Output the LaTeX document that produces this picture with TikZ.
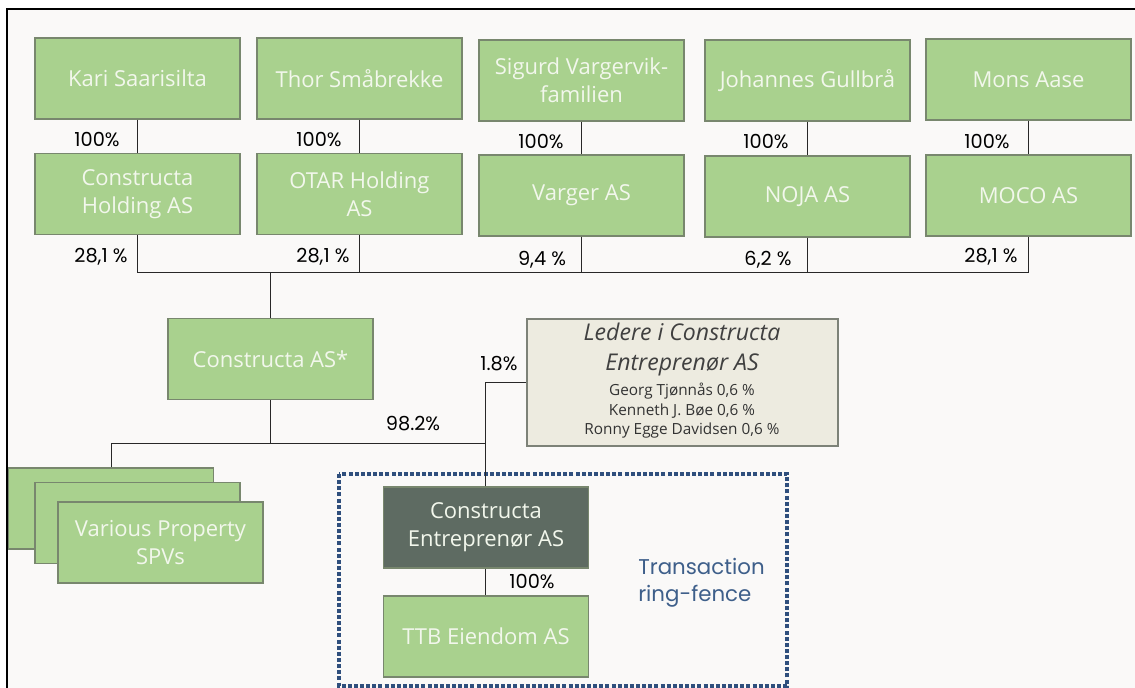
\documentclass[tikz,border=0pt]{standalone}
\usepackage{fontspec}
\setmainfont{Open Sans}
\newfontfamily\pop{Poppins}
\definecolor{bg}{RGB}{250,249,248}
\definecolor{gfill}{RGB}{169,209,142}
\definecolor{gline}{RGB}{120,135,110}
\definecolor{gtext}{RGB}{242,247,236}
\definecolor{dfill}{RGB}{94,107,98}
\definecolor{bfill}{RGB}{237,235,224}
\definecolor{bline}{RGB}{125,130,120}
\definecolor{ring}{RGB}{47,79,125}
\definecolor{ringtext}{RGB}{62,95,138}
\definecolor{conn}{RGB}{40,40,40}
\tikzset{
  gbox/.style={draw=gline, line width=0.9pt, fill=gfill, text=gtext, inner sep=0pt, align=center, font=\fontsize{16.5}{21}\selectfont, minimum width=153.75pt, minimum height=60.75pt},
  dbox/.style={gbox, fill=dfill},
  lbox/.style={draw=bline, line width=0.9pt, fill=bfill, inner sep=0pt, minimum width=233.25pt, minimum height=95.25pt},
  pct/.style={font=\pop\fontsize{14.5}{16}\selectfont, text=black, inner sep=0pt},
  conn/.style={draw=conn, line width=0.75pt},
}
\begin{document}
\begin{tikzpicture}[x=0.75pt,y=-0.75pt]
\useasboundingbox (0,0) rectangle (1135,688);
\fill[white] (0,0) rectangle (1135,688);
\fill[bg] (7,9) rectangle (1135,688);
\draw[black, line width=1.5pt] (7,688) -- (7,9) -- (1135,9);

% top row owners
\node[gbox] (kari) at (137.5,78.5) {Kari Saarisilta};
\node[gbox] (thor) at (359.5,78.5) {Thor Småbrekke};
\node[gbox] (sigurd) at (581.5,80.5) {Sigurd Vargervik-\\familien};
\node[gbox] (johannes) at (807.5,80.5) {Johannes Gullbrå};
\node[gbox] (mons) at (1028.5,79.5) {Mons Aase};

% holding companies
\node[gbox] (chold) at (137.5,194) {Constructa\\Holding AS};
\node[gbox] (otar) at (359.5,194) {OTAR Holding\\AS};
\node[gbox] (varger) at (581.5,195.5) {Varger AS};
\node[gbox] (noja) at (807.5,196.5) {NOJA AS};
\node[gbox] (moco) at (1028.5,195.5) {MOCO AS};

\draw[conn] (kari) -- (chold);
\draw[conn] (thor) -- (otar);
\draw[conn] (sigurd) -- (varger);
\draw[conn] (johannes) -- (noja);
\draw[conn] (mons) -- (moco);

\node[pct] (p1) at (97,140) {100\%};
\node[pct] (p2) at (319,140) {100\%};
\node[pct] (p3) at (541,142) {100\%};
\node[pct] (p4) at (766,142) {100\%};
\node[pct] (p5) at (987,142) {100\%};

% Constructa AS
\node[gbox] (cas) at (270.5,359) {Constructa AS*};

\coordinate (b1) at (chold.south |- 0,272);
\coordinate (b2) at (otar.south |- 0,272);
\coordinate (b3) at (varger.south |- 0,272);
\coordinate (b4) at (noja.south |- 0,272);
\coordinate (b5) at (moco.south |- 0,272);
\coordinate (bc) at (cas.north |- 0,272);
\draw[conn] (chold.south) -- (b1) -- (b5) -- (moco.south);
\draw[conn] (otar.south) -- (b2);
\draw[conn] (varger.south) -- (b3);
\draw[conn] (noja.south) -- (b4);
\draw[conn] (bc) -- (cas.north);

\node[pct] (q1) at (101,257) {28,1 \%};
\node[pct] (q2) at (323,257) {28,1 \%};
\node[pct] (q3) at (542,260) {9,4 \%};
\node[pct] (q4) at (768,260) {6,2 \%};
\node[pct] (q5) at (991,257) {28,1 \%};

% SPVs
\node[gbox] (spv1) at (111,508.5) {};
\node[gbox] (spv2) at (137.5,523) {};
\node[gbox] (spv3) at (160.5,542.5) {Various Property\\SPVs};

% Ring fence
\draw[ring, line width=2.6pt, dash pattern=on 3pt off 1.6pt] (339,474) rectangle (787,686);

% Constructa Entreprenør and TTB
\node[dbox] (ce) at (486,527.5) {Constructa\\Entreprenør AS};
\node[gbox] (ttb) at (486,636.5) {TTB Eiendom AS};

% Ledere box
\node[lbox] (ledere) at (682.5,382.5) {};
\node[text=black!75, font=\itshape\fontsize{17.3}{22.5}\selectfont, align=center, inner sep=0pt] (ledt) at (682,349) {Ledere i Constructa\\Entreprenør AS};
\node[text=black!80, font=\fontsize{11.5}{14.6}\selectfont, align=center, inner sep=0pt] (ledn) at (682,411) {Georg Tjønnås 0,6 \%\\Kenneth J. Bøe 0,6 \%\\Ronny Egge Davidsen 0,6 \%};

\coordinate (c1) at (spv1.north |- 0,443);
\coordinate (c2) at (485,443);
\coordinate (c3) at (485,382);
\draw[conn] (cas.south) -- (cas.south |- 0,443);
\draw[conn] (spv1.north) -- (c1) -- (c2);
\draw[conn] (ce.north -| c2) -- (c3) -- (ledere.west |- c3);
\draw[conn] (ce.south -| c2) -- (ttb.north -| c2);

\node[pct] (r1) at (413,424) {98.2\%};
\node[pct] (r2) at (499,364) {1.8\%};
\node[pct] (r3) at (532,582) {100\%};

\node[font=\pop\fontsize{16}{20}\selectfont, text=ringtext, align=left, anchor=west, inner sep=0pt] (rf) at (638,583) {Transaction\\ring-fence};
\end{tikzpicture}
\end{document}
